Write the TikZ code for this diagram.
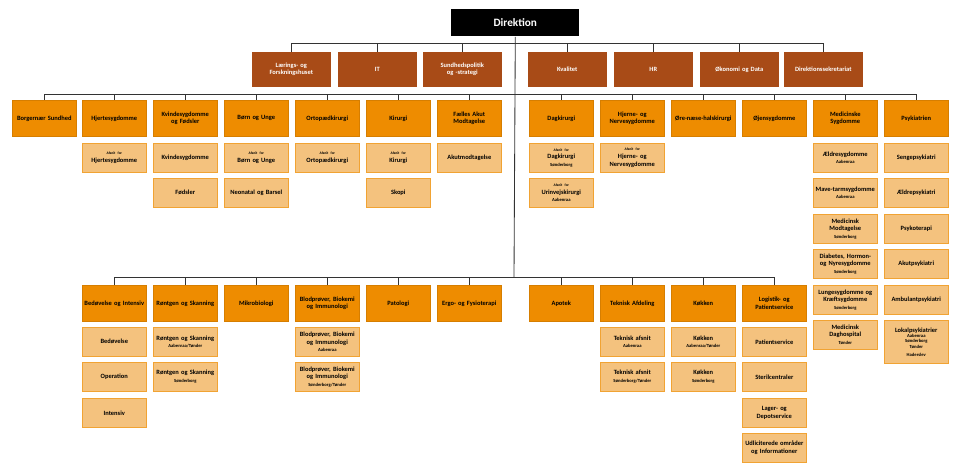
\documentclass[tikz,border=0pt]{standalone}
\usepackage{fontspec}
\setmainfont{Carlito}
\definecolor{mainor}{HTML}{EE8C00}
\definecolor{subor}{HTML}{F4C27E}
\definecolor{staffbr}{HTML}{A84B17}
\newcommand{\afs}{{\fontsize{2.6}{3}\selectfont Afsnit for}\\}
\newcommand{\loc}[1]{\\{\fontsize{3.3}{3.9}\selectfont #1}}
\tikzset{
  box/.style={rectangle, anchor=north west, align=center, inner sep=1pt,
    minimum width=1.6cm, text width=1.5cm, font=\fontsize{4.6}{5.4}\selectfont\bfseries},
  main/.style={box, fill=mainor, draw=mainor!90!black, minimum height=0.9cm},
  sub/.style={box, fill=subor, draw=mainor!80, minimum height=0.725cm},
  staff/.style={box, fill=staffbr, draw=staffbr, text=white, minimum width=1.95cm, text width=1.8cm, minimum height=0.85cm},
  line/.style={draw=black!80, line width=0.6pt}
}
\begin{document}
\begin{tikzpicture}[x=0.025cm, y=-0.025cm]
\useasboundingbox (0,0) rectangle (960,470);

% direction and staff
\node (dir) [box, fill=black, text=white, minimum width=3.2cm, text width=3cm, minimum height=0.68cm,
  font=\fontsize{8}{9}\selectfont\bfseries] at (451,9) {Direktion};
\foreach \n/\x/\t in {st1/252/{Lærings- og\\Forskningshuset}, st2/338/IT, st3/423/{Sundhedspolitik\\og -strategi},
  st4/528/Kvalitet, st5/614/HR, st6/700/Økonomi og Data, st7/784/Direktionssekretariat}
  \node (\n) [staff] at (\x,52) {\t};

% clinical departments
\foreach \n/\x/\t in {k1/12/Borgernær Sundhed, k2/82/Hjertesygdomme, k3/153/{Kvindesygdomme\\og Fødsler},
  k4/224/Børn og Unge, k5/295/Ortopædkirurgi, k6/366/Kirurgi, k7/437/{Fælles Akut\\Modtagelse},
  k8/529/Dagkirurgi, k9/600/{Hjerne- og\\Nervesygdomme}, k10/671/Øre-næse-halskirurgi,
  k11/742/Øjensygdomme, k12/813/{Medicinske\\Sygdomme}, k13/884/Psykiatrien}
  \node (\n) [main] at (\x,100) {\t};

% clinical sections
\foreach \n/\x/\y/\t in {
  k2a/82/143/{\afs Hjertesygdomme},
  k3a/153/143/Kvindesygdomme, k3b/153/178/Fødsler,
  k4a/224/143/{\afs Børn og Unge}, k4b/224/178/Neonatal og Barsel,
  k5a/295/143/{\afs Ortopædkirurgi},
  k6a/366/143/{\afs Kirurgi}, k6b/366/178/Skopi,
  k7a/437/143/Akutmodtagelse,
  k8a/529/143/{\afs Dagkirurgi\loc{Sønderborg}}, k8b/529/178/{\afs Urinvejskirurgi\loc{Aabenraa}},
  k9a/600/143/{\afs Hjerne- og\\Nervesygdomme},
  k12a/813/143/{Ældresygdomme\loc{Aabenraa}}, k12b/813/178/{Mave-tarmsygdomme\loc{Aabenraa}},
  k12c/813/214/{Medicinsk\\Modtagelse\loc{Sønderborg}}, k12d/813/249/{Diabetes, Hormon-\\og Nyresygdomme\loc{Sønderborg}},
  k12e/813/285/{Lungesygdomme og\\Kræftsygdomme\loc{Sønderborg}}, k12f/813/320/{Medicinsk Daghospital\loc{Tønder}},
  k13a/884/143/Sengepsykiatri, k13b/884/178/Ældrepsykiatri, k13c/884/214/Psykoterapi,
  k13d/884/249/Akutpsykiatri, k13e/884/285/Ambulantpsykiatri}
  \node (\n) [sub] at (\x,\y) {\t};
\node (k13f) [sub, minimum height=1.075cm] at (884,320) {Lokalpsykiatrier\loc{Aabenraa\\Sønderborg\\Tønder\\Haderslev}};

% service departments
\foreach \n/\x/\t in {s1/82/Bedøvelse og Intensiv, s2/153/Røntgen og Skanning, s3/224/Mikrobiologi,
  s4/295/{Blodprøver, Biokemi\\og Immunologi}, s5/366/Patologi, s6/437/Ergo- og Fysioterapi,
  s7/529/Apotek, s8/600/Teknisk Afdeling, s9/671/Køkken, s10/742/{Logistik- og\\Patientservice}}
  \node (\n) [main] at (\x,285) {\t};

% service sections
\foreach \n/\x/\y/\t in {
  s1a/82/327/Bedøvelse, s1b/82/362/Operation, s1c/82/398/Intensiv,
  s2a/153/327/{Røntgen og Skanning\loc{Aabenraa/Tønder}}, s2b/153/362/{Røntgen og Skanning\loc{Sønderborg}},
  s4a/295/327/{Blodprøver, Biokemi\\og Immunologi\loc{Aabenraa}},
  s4b/295/362/{Blodprøver, Biokemi\\og Immunologi\loc{Sønderborg/Tønder}},
  s8a/600/327/{Teknisk afsnit\loc{Aabenraa}}, s8b/600/362/{Teknisk afsnit\loc{Sønderborg/Tønder}},
  s9a/671/327/{Køkken\loc{Aabenraa/Tønder}}, s9b/671/362/{Køkken\loc{Sønderborg}},
  s10a/742/327/Patientservice, s10b/742/362/Sterilcentraler, s10c/742/398/{Lager- og\\Depotservice},
  s10d/742/433/{Udliciterede områder\\og Informationer}}
  \node (\n) [sub] at (\x,\y) {\t};

% connectors
\coordinate (stbus) at (514,43);
\coordinate (kbus) at (514,94);
\coordinate (sbus) at (514,277);
\draw[line] (dir.south) -- (sbus);
\draw[line] (st1.north |- stbus) -- (st7.north |- stbus);
\draw[line] (k1.north |- kbus) -- (k13.north |- kbus);
\draw[line] (s1.north |- sbus) -- (s10.north |- sbus);
\foreach \n in {st1,st2,st3,st4,st5,st6,st7}
  \draw[line] (\n.north |- stbus) -- (\n.north);
\foreach \n in {k1,k2,k3,k4,k5,k6,k7,k8,k9,k10,k11,k12,k13}
  \draw[line] (\n.north |- kbus) -- (\n.north);
\foreach \n in {s1,s2,s3,s4,s5,s6,s7,s8,s9,s10}
  \draw[line] (\n.north |- sbus) -- (\n.north);
\end{tikzpicture}
\end{document}
